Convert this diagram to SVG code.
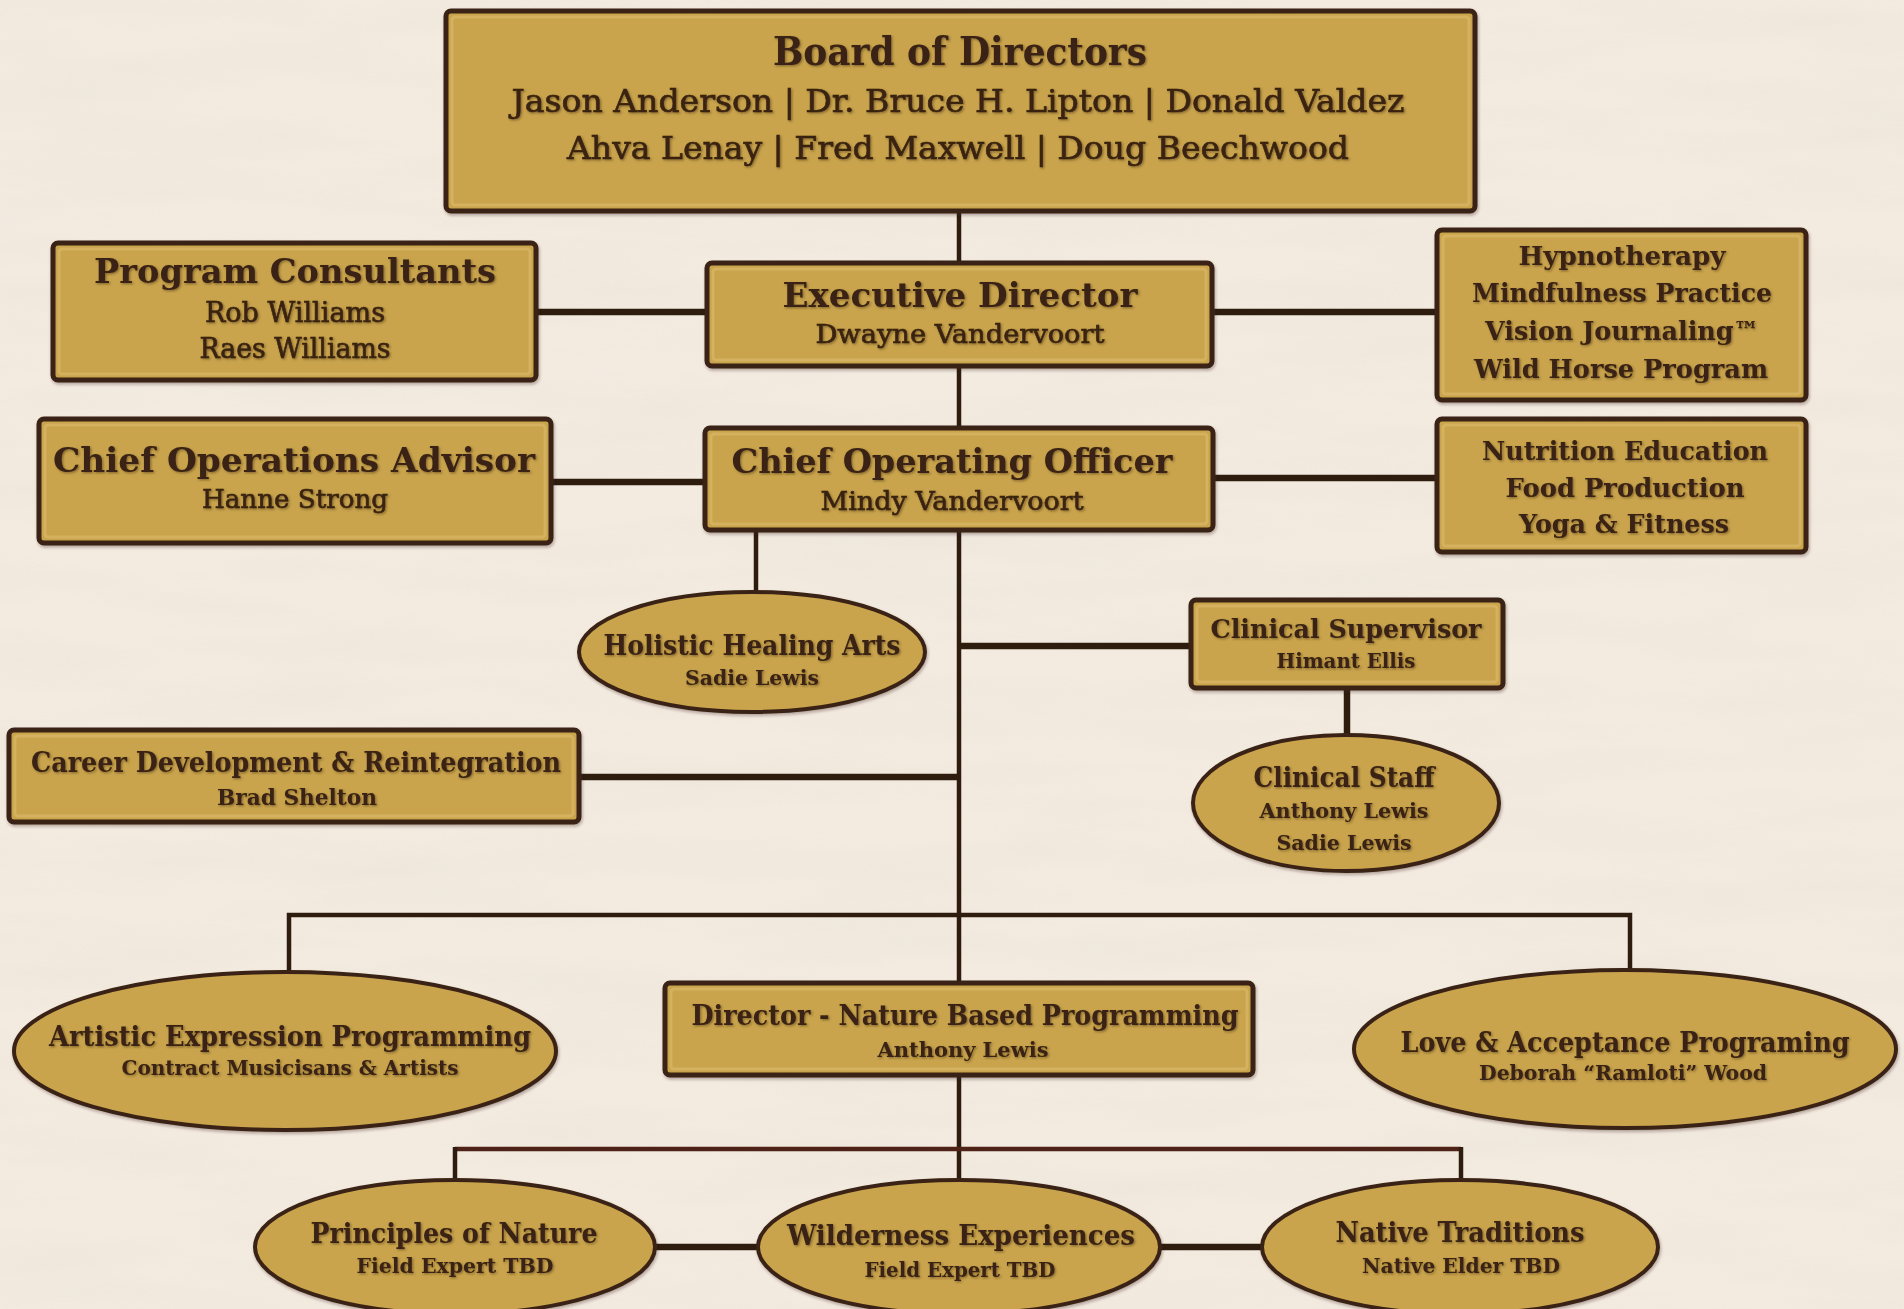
<svg xmlns="http://www.w3.org/2000/svg" width="1904" height="1309" viewBox="0 0 1904 1309">
  <defs>
    <filter id="paper" x="0" y="0" width="100%" height="100%">
      <feTurbulence type="fractalNoise" baseFrequency="0.004 0.025" numOctaves="3" seed="7"/>
      <feColorMatrix type="matrix" values="0 0 0 0 0.78  0 0 0 0 0.72  0 0 0 0 0.64  1.2 0 0 0 -0.45"/>
    </filter>
    <filter id="ts" x="-5%" y="-30%" width="110%" height="160%">
      <feDropShadow dx="1.2" dy="1.2" stdDeviation="0.8" flood-color="#4a2e12" flood-opacity="0.55"/>
    </filter>
    <filter id="ds" x="-5%" y="-10%" width="110%" height="125%">
      <feDropShadow dx="1" dy="2" stdDeviation="1.5" flood-color="#3a2413" flood-opacity="0.35"/>
    </filter>
  </defs>
  <style>
    .box { fill: #c9a44d; stroke: #3a2413; stroke-width: 5; filter: url(#ds); }
    .oval { fill: #c9a44d; stroke: #3a2413; stroke-width: 4; filter: url(#ds); }
    .bevel { fill: none; stroke: #dcbd6c; stroke-width: 3; opacity: 0.6; }
    .t { font-family: "DejaVu Serif", "Liberation Serif", serif; fill: #3a2312; text-anchor: middle; font-weight: bold; filter: url(#ts); }
    .n { font-weight: normal; stroke: #3a2312; stroke-width: 0.6; }
    .ln { stroke: #2e1c0e; fill: none; }
    .thick { stroke-width: 6.5; }
    .thin { stroke-width: 4.5; }
    .red { stroke: #4e2216; stroke-width: 4.5; }
  </style>

  <!-- parchment background -->
  <rect x="0" y="0" width="1904" height="1309" fill="#f3ebe0"/>
  <rect x="0" y="0" width="1904" height="1309" filter="url(#paper)" opacity="0.45"/>

  <!-- connectors -->
  <g id="connectors">
    <line class="ln thin" x1="959" y1="208" x2="959" y2="1182"/>
    <line class="ln thick" x1="536" y1="312" x2="707" y2="312"/>
    <line class="ln thick" x1="1212" y1="312" x2="1437" y2="312"/>
    <line class="ln thick" x1="551" y1="482" x2="705" y2="482"/>
    <line class="ln thick" x1="1213" y1="478" x2="1437" y2="478"/>
    <line class="ln thin" x1="756" y1="530" x2="756" y2="593"/>
    <line class="ln thick" x1="959" y1="646" x2="1191" y2="646"/>
    <line class="ln thick" x1="1347" y1="688" x2="1347" y2="737"/>
    <line class="ln thick" x1="579" y1="777" x2="959" y2="777"/>
    <polyline class="ln thin" points="289,973 289,915 1630,915 1630,971"/>
    <line class="ln red" x1="455" y1="1149" x2="1461" y2="1149"/>
    <line class="ln thin" x1="455" y1="1147" x2="455" y2="1181"/>
    <line class="ln thin" x1="1461" y1="1147" x2="1461" y2="1181"/>
    <line class="ln thick" x1="654" y1="1247" x2="759" y2="1247"/>
    <line class="ln thick" x1="1159" y1="1247" x2="1263" y2="1247"/>
  </g>

  <g id="board">
    <rect class="box" x="446" y="11" width="1029" height="200" rx="5"/>
    <rect class="bevel" x="452" y="17" width="1017" height="188" rx="3"/>
    <text class="t" x="960" y="65" font-size="39" textLength="374" lengthAdjust="spacingAndGlyphs">Board of Directors</text>
    <text class="t n" x="958" y="112" font-size="32" textLength="893" lengthAdjust="spacingAndGlyphs">Jason Anderson | Dr. Bruce H. Lipton | Donald Valdez</text>
    <text class="t n" x="958" y="159" font-size="32" textLength="782" lengthAdjust="spacingAndGlyphs">Ahva Lenay | Fred Maxwell | Doug Beechwood</text>
  </g>

  <g id="program-consultants">
    <rect class="box" x="53" y="243" width="483" height="137" rx="5"/>
    <rect class="bevel" x="59" y="249" width="471" height="125" rx="3"/>
    <text class="t" x="295" y="283" font-size="34" textLength="402" lengthAdjust="spacingAndGlyphs">Program Consultants</text>
    <text class="t n" x="295" y="322" font-size="27" textLength="180" lengthAdjust="spacingAndGlyphs">Rob Williams</text>
    <text class="t n" x="295" y="358" font-size="27" textLength="191" lengthAdjust="spacingAndGlyphs">Raes Williams</text>
  </g>

  <g id="executive-director">
    <rect class="box" x="707" y="263" width="505" height="103" rx="5"/>
    <rect class="bevel" x="713" y="269" width="493" height="91" rx="3"/>
    <text class="t" x="960" y="307" font-size="34" textLength="355" lengthAdjust="spacingAndGlyphs">Executive Director</text>
    <text class="t n" x="960" y="343" font-size="26" textLength="289" lengthAdjust="spacingAndGlyphs">Dwayne Vandervoort</text>
  </g>

  <g id="therapies">
    <rect class="box" x="1437" y="230" width="369" height="170" rx="5"/>
    <rect class="bevel" x="1443" y="236" width="357" height="158" rx="3"/>
    <text class="t" x="1622" y="265" font-size="26" textLength="207" lengthAdjust="spacingAndGlyphs">Hypnotherapy</text>
    <text class="t" x="1622" y="302" font-size="26" textLength="300" lengthAdjust="spacingAndGlyphs">Mindfulness Practice</text>
    <text class="t" x="1622" y="340" font-size="26" textLength="274" lengthAdjust="spacingAndGlyphs">Vision Journaling™</text>
    <text class="t" x="1621" y="378" font-size="26" textLength="294" lengthAdjust="spacingAndGlyphs">Wild Horse Program</text>
  </g>

  <g id="chief-operations-advisor">
    <rect class="box" x="39" y="419" width="512" height="124" rx="5"/>
    <rect class="bevel" x="45" y="425" width="500" height="112" rx="3"/>
    <text class="t" x="294" y="472" font-size="34" textLength="482" lengthAdjust="spacingAndGlyphs">Chief Operations Advisor</text>
    <text class="t n" x="295" y="508" font-size="26" textLength="186" lengthAdjust="spacingAndGlyphs">Hanne Strong</text>
  </g>

  <g id="chief-operating-officer">
    <rect class="box" x="705" y="428" width="508" height="102" rx="5"/>
    <rect class="bevel" x="711" y="434" width="496" height="90" rx="3"/>
    <text class="t" x="952" y="473" font-size="34" textLength="441" lengthAdjust="spacingAndGlyphs">Chief Operating Officer</text>
    <text class="t n" x="952" y="510" font-size="26" textLength="263" lengthAdjust="spacingAndGlyphs">Mindy Vandervoort</text>
  </g>

  <g id="wellness">
    <rect class="box" x="1437" y="419" width="369" height="133" rx="5"/>
    <rect class="bevel" x="1443" y="425" width="357" height="121" rx="3"/>
    <text class="t" x="1625" y="460" font-size="26" textLength="286" lengthAdjust="spacingAndGlyphs">Nutrition Education</text>
    <text class="t" x="1625" y="497" font-size="26" textLength="239" lengthAdjust="spacingAndGlyphs">Food Production</text>
    <text class="t" x="1624" y="533" font-size="26" textLength="210" lengthAdjust="spacingAndGlyphs">Yoga &amp; Fitness</text>
  </g>

  <g id="holistic-healing-arts">
    <ellipse class="oval" cx="752" cy="652" rx="173" ry="60"/>
    <text class="t" x="752" y="655" font-size="28" textLength="297" lengthAdjust="spacingAndGlyphs">Holistic Healing Arts</text>
    <text class="t" x="752" y="685" font-size="21" textLength="134" lengthAdjust="spacingAndGlyphs">Sadie Lewis</text>
  </g>

  <g id="clinical-supervisor">
    <rect class="box" x="1191" y="600" width="312" height="88" rx="5"/>
    <rect class="bevel" x="1197" y="606" width="300" height="76" rx="3"/>
    <text class="t" x="1346" y="638" font-size="26" textLength="271" lengthAdjust="spacingAndGlyphs">Clinical Supervisor</text>
    <text class="t" x="1346" y="668" font-size="20" textLength="139" lengthAdjust="spacingAndGlyphs">Himant Ellis</text>
  </g>

  <g id="clinical-staff">
    <ellipse class="oval" cx="1346" cy="803" rx="153" ry="68"/>
    <text class="t" x="1344" y="787" font-size="27" textLength="181" lengthAdjust="spacingAndGlyphs">Clinical Staff</text>
    <text class="t" x="1344" y="818" font-size="21" textLength="169" lengthAdjust="spacingAndGlyphs">Anthony Lewis</text>
    <text class="t" x="1344" y="850" font-size="21" textLength="135" lengthAdjust="spacingAndGlyphs">Sadie Lewis</text>
  </g>

  <g id="career-development">
    <rect class="box" x="9" y="730" width="570" height="92" rx="5"/>
    <rect class="bevel" x="15" y="736" width="558" height="80" rx="3"/>
    <text class="t" x="296" y="772" font-size="28" textLength="530" lengthAdjust="spacingAndGlyphs">Career Development &amp; Reintegration</text>
    <text class="t" x="297" y="805" font-size="22" textLength="160" lengthAdjust="spacingAndGlyphs">Brad Shelton</text>
  </g>

  <g id="artistic-expression">
    <ellipse class="oval" cx="285" cy="1051" rx="271" ry="79"/>
    <text class="t" x="290" y="1046" font-size="28" textLength="482" lengthAdjust="spacingAndGlyphs">Artistic Expression Programming</text>
    <text class="t" x="290" y="1075" font-size="20" textLength="337" lengthAdjust="spacingAndGlyphs">Contract Musicisans &amp; Artists</text>
  </g>

  <g id="director-nature">
    <rect class="box" x="665" y="983" width="588" height="92" rx="5"/>
    <rect class="bevel" x="671" y="989" width="576" height="80" rx="3"/>
    <text class="t" x="965" y="1025" font-size="28" textLength="547" lengthAdjust="spacingAndGlyphs">Director - Nature Based Programming</text>
    <text class="t" x="963" y="1057" font-size="21" textLength="171" lengthAdjust="spacingAndGlyphs">Anthony Lewis</text>
  </g>

  <g id="love-acceptance">
    <ellipse class="oval" cx="1625" cy="1049" rx="271" ry="79"/>
    <text class="t" x="1625" y="1052" font-size="28" textLength="449" lengthAdjust="spacingAndGlyphs">Love &amp; Acceptance Programing</text>
    <text class="t" x="1623" y="1080" font-size="20" textLength="288" lengthAdjust="spacingAndGlyphs">Deborah “Ramloti” Wood</text>
  </g>

  <g id="principles-of-nature">
    <ellipse class="oval" cx="455" cy="1247" rx="200" ry="67"/>
    <text class="t" x="454" y="1243" font-size="27" textLength="287" lengthAdjust="spacingAndGlyphs">Principles of Nature</text>
    <text class="t" x="455" y="1273" font-size="21" textLength="197" lengthAdjust="spacingAndGlyphs">Field Expert TBD</text>
  </g>

  <g id="wilderness-experiences">
    <ellipse class="oval" cx="959" cy="1247" rx="201" ry="67"/>
    <text class="t" x="961" y="1245" font-size="27" textLength="348" lengthAdjust="spacingAndGlyphs">Wilderness Experiences</text>
    <text class="t" x="960" y="1277" font-size="21" textLength="191" lengthAdjust="spacingAndGlyphs">Field Expert TBD</text>
  </g>

  <g id="native-traditions">
    <ellipse class="oval" cx="1460" cy="1247" rx="198" ry="67"/>
    <text class="t" x="1460" y="1242" font-size="27" textLength="249" lengthAdjust="spacingAndGlyphs">Native Traditions</text>
    <text class="t" x="1461" y="1273" font-size="21" textLength="198" lengthAdjust="spacingAndGlyphs">Native Elder TBD</text>
  </g>
</svg>
